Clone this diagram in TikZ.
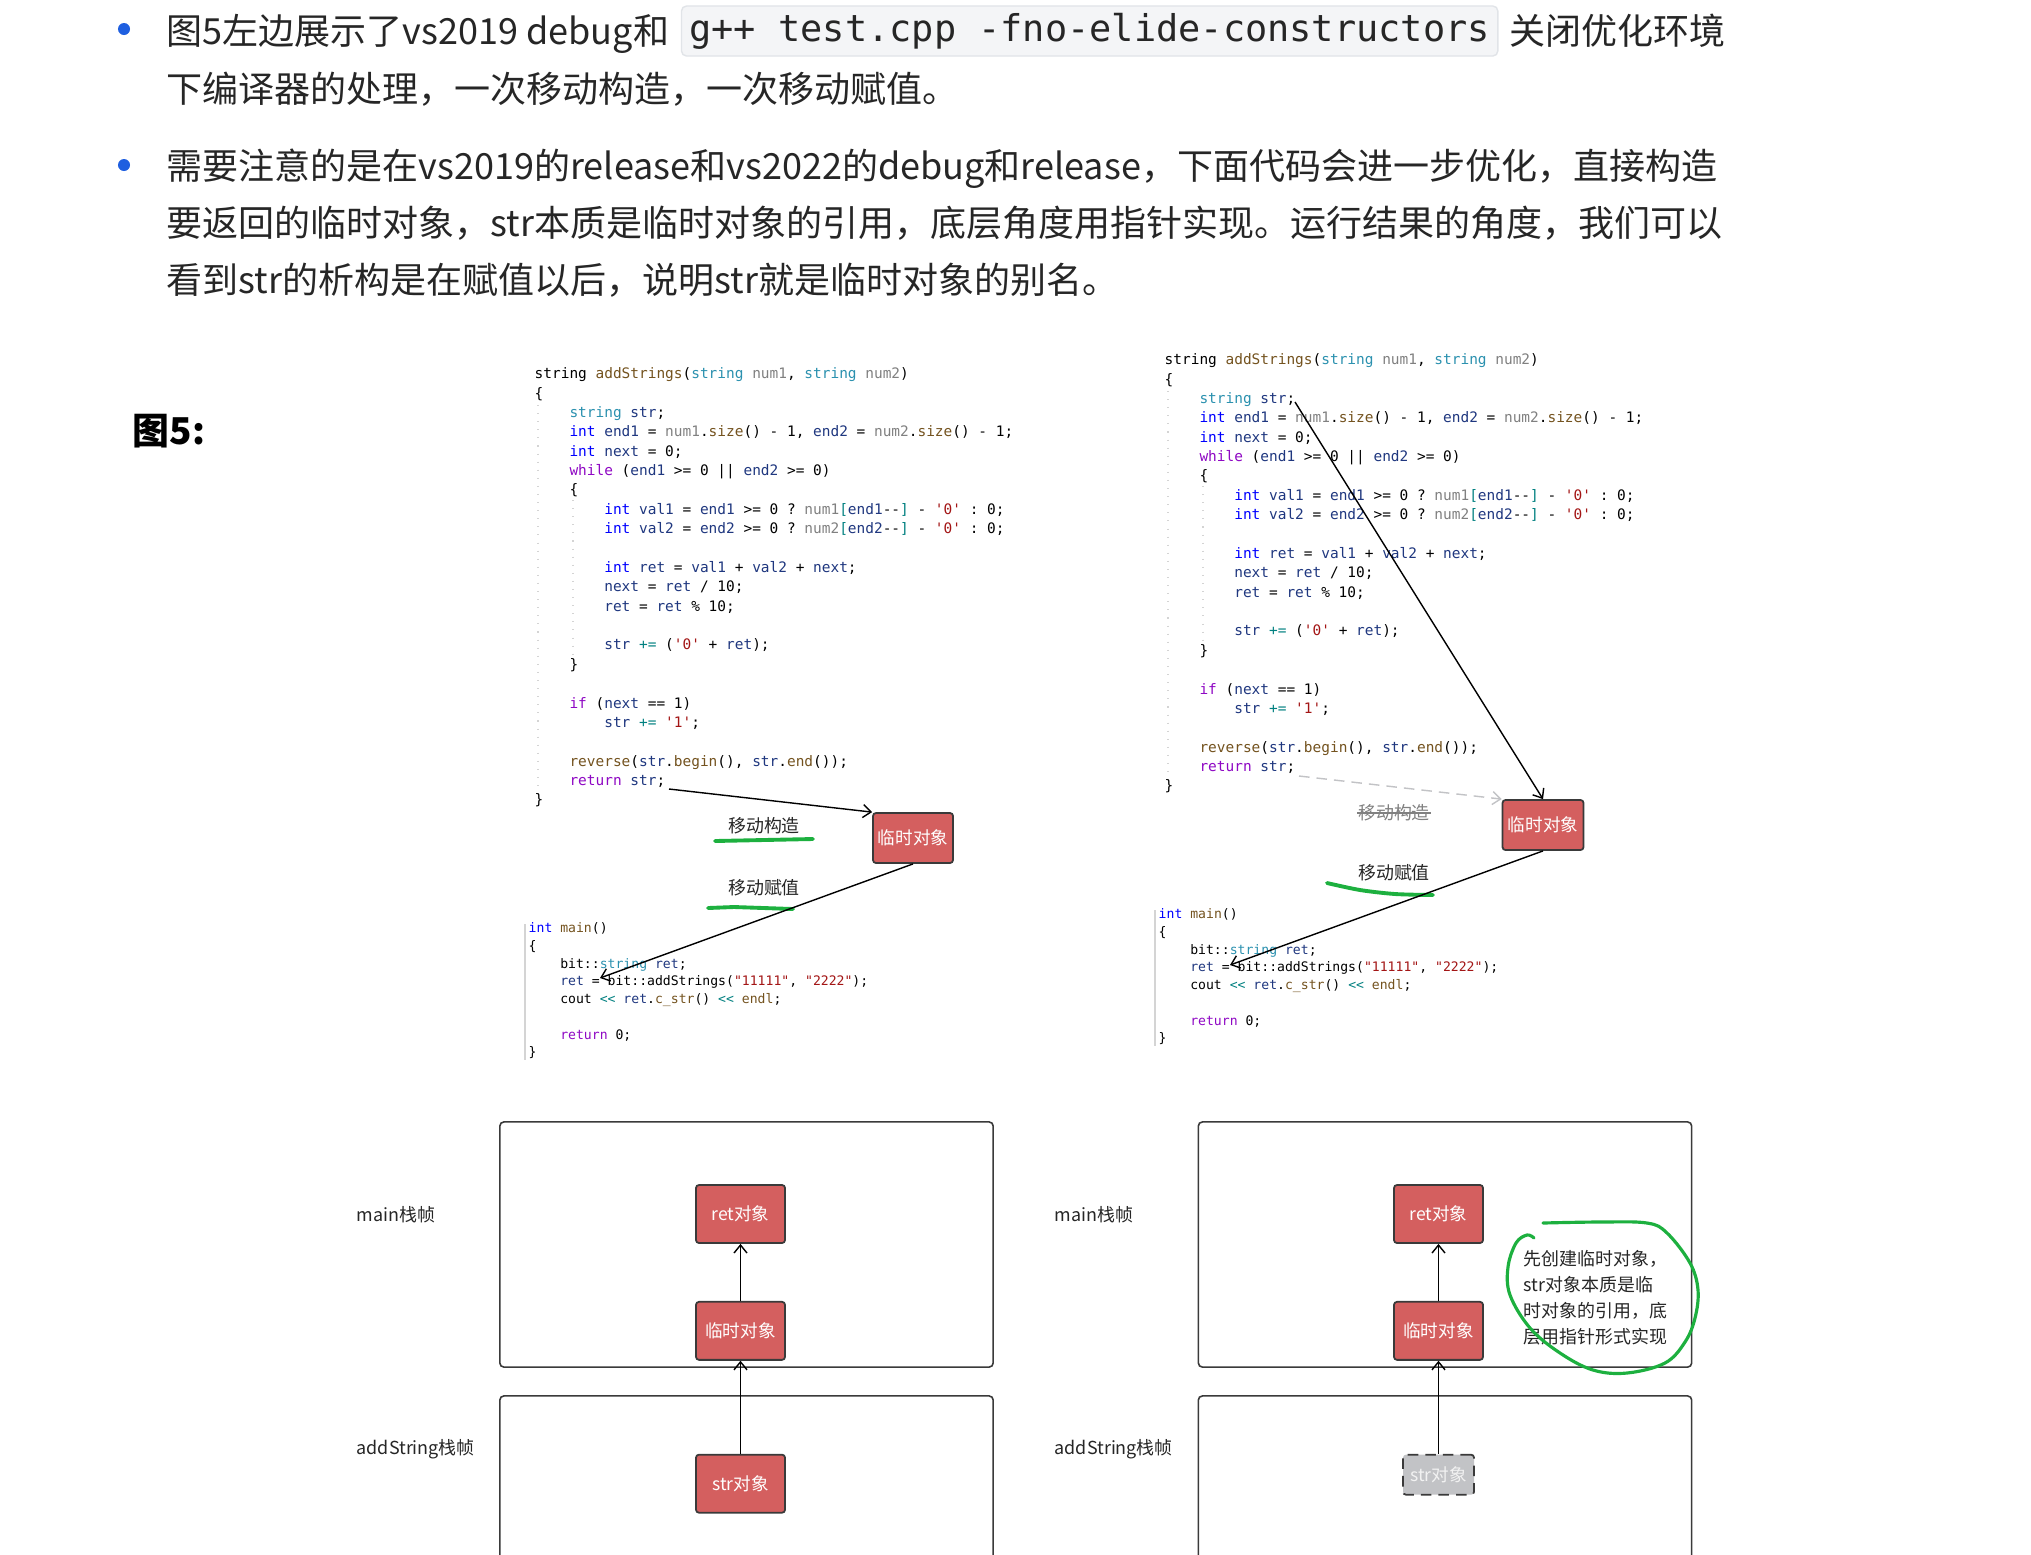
\documentclass[tikz,border=0pt]{standalone}
\usepackage{fontspec}
\setmainfont{Noto Sans CJK SC}
\setmonofont{DejaVu Sans Mono}
\usetikzlibrary{arrows.meta, positioning}

\definecolor{txtgray}{HTML}{262626}
\definecolor{bulletblue}{HTML}{1F5FE0}
\definecolor{boxred}{HTML}{D45F5F}
\definecolor{boxline}{HTML}{3A3A3A}
\definecolor{pengreen}{HTML}{1DB03F}
\definecolor{codebg}{HTML}{F4F5F7}
\definecolor{codeframe}{HTML}{E1E4E8}
\definecolor{kwblue}{HTML}{0000FF}
\definecolor{ctlpurple}{HTML}{8F08C4}
\definecolor{typteal}{HTML}{2B91AF}
\definecolor{fnbrown}{HTML}{74531F}
\definecolor{varnavy}{HTML}{1F377F}
\definecolor{pargray}{HTML}{808080}
\definecolor{strred}{HTML}{A31515}
\definecolor{opteal}{HTML}{008080}
\definecolor{ghost}{HTML}{C2C3C6}
\definecolor{guide}{HTML}{D4D4D4}

% code colouring
\newcommand\ckw[1]{\textcolor{kwblue}{#1}}
\newcommand\cctl[1]{\textcolor{ctlpurple}{#1}}
\newcommand\ctyp[1]{\textcolor{typteal}{#1}}
\newcommand\cfn[1]{\textcolor{fnbrown}{#1}}
\newcommand\cvar[1]{\textcolor{varnavy}{#1}}
\newcommand\cpar[1]{\textcolor{pargray}{#1}}
\newcommand\cstr[1]{\textcolor{strred}{#1}}
\newcommand\cop[1]{\textcolor{opteal}{#1}}
\newcommand\ind{\hspace*{2.408em}}

\begin{document}
\begin{tikzpicture}[
    x=0.01cm, y=-0.01cm,
    >={Straight Barb[length=0.08cm, width=0.13cm]},
    para/.style={anchor=west, inner sep=0, text height=0.88em, text depth=0.12em, text=txtgray, font=\fontsize{10.24pt}{12pt}\selectfont},
    inline/.style={rectangle, rounded corners=0.05cm, fill=codebg, draw=codeframe, inner xsep=0.08cm, inner ysep=0, minimum height=0.5cm, text=txtgray, font=\ttfamily\fontsize{10.5pt}{12pt}\selectfont},
    codeblk/.style={anchor=north west, inner sep=0, align=left, font=\ttfamily\fontsize{4.11pt}{5.51pt}\selectfont},
    maincode/.style={codeblk, font=\ttfamily\fontsize{3.73pt}{5.04pt}\selectfont},
    tmpbox/.style={rectangle, rounded corners=0.03cm, draw=boxline, line width=0.5pt, fill=boxred, text=white, inner sep=0, font=\fontsize{5pt}{6pt}\selectfont},
    objbox/.style={tmpbox, minimum width=0.89cm, minimum height=0.58cm},
    ghostbox/.style={tmpbox, fill=ghost, densely dashed, text=white!95!black, minimum width=0.71cm, minimum height=0.40cm},
    stackframe/.style={rectangle, rounded corners=0.04cm, draw=boxline, line width=0.45pt, minimum width=4.93cm},
    lbl/.style={text=txtgray, inner sep=0, font=\fontsize{5.1pt}{6pt}\selectfont},
    greenpen/.style={pengreen, line width=1.1pt, line cap=round, line join=round},
    link/.style={->, line width=0.4pt}
]
\useasboundingbox[fill=white] (0,0) rectangle (2031,1554);

% Text above
\fill[bulletblue] (124,29) circle (0.06cm);
\fill[bulletblue] (124,165) circle (0.06cm);
\node[para] (p1a) at (166,31) {图5左边展示了vs2019 debug和};
\node[inline, right=0.11cm of p1a] (gcpp) {g++ test.cpp -fno-elide-constructors};
\node[para, right=0.1cm of gcpp] (p1b) {关闭优化环境};
\node[para] (p2) at (166,89) {下编译器的处理，一次移动构造，一次移动赋值。};
\node[para] (p3) at (166,166) {需要注意的是在vs2019的release和vs2022的debug和release，下面代码会进一步优化，直接构造};
\node[para] (p4) at (166,223) {要返回的临时对象，str本质是临时对象的引用，底层角度用指针实现。运行结果的角度，我们可以};
\node[para] (p5) at (166,280) {看到str的析构是在赋值以后，说明str就是临时对象的别名。};
\node[para, text=black, font=\bfseries\fontsize{10.5pt}{12pt}\selectfont] (fig5) at (132,431) {图5:};

% Code, left
\draw[guide, dotted, line width=0.3pt] (538,405) -- (538,795);
\draw[guide, dotted, line width=0.3pt] (573,500) -- (573,658);
\node[codeblk] (codeL) at (534,367) {%
string \cfn{addStrings}(\ctyp{string} \cpar{num1}, \ctyp{string} \cpar{num2})\\
\{\\
\ind\ctyp{string} \cvar{str};\\
\ind\ckw{int} \cvar{end1} = \cpar{num1}.\cfn{size}() - 1, \cvar{end2} = \cpar{num2}.\cfn{size}() - 1;\\
\ind\ckw{int} \cvar{next} = 0;\\
\ind\cctl{while} (\cvar{end1} >= 0 || \cvar{end2} >= 0)\\
\ind\{\\
\ind\ind\ckw{int} \cvar{val1} = \cvar{end1} >= 0 ? \cpar{num1}\cop{[}\cvar{end1}--\cop{]} - \cstr{'0'} : 0;\\
\ind\ind\ckw{int} \cvar{val2} = \cvar{end2} >= 0 ? \cpar{num2}\cop{[}\cvar{end2}--\cop{]} - \cstr{'0'} : 0;\\
\mbox{}\\
\ind\ind\ckw{int} \cvar{ret} = \cvar{val1} + \cvar{val2} + \cvar{next};\\
\ind\ind\cvar{next} = \cvar{ret} / 10;\\
\ind\ind\cvar{ret} = \cvar{ret} \% 10;\\
\mbox{}\\
\ind\ind\cvar{str} \cop{+=} (\cstr{'0'} + \cvar{ret});\\
\ind\}\\
\mbox{}\\
\ind\cctl{if} (\cvar{next} == 1)\\
\ind\ind\cvar{str} \cop{+=} \cstr{'1'};\\
\mbox{}\\
\ind\cfn{reverse}(\cvar{str}.\cfn{begin}(), \cvar{str}.\cfn{end}());\\
\ind\cctl{return} \cvar{str};\\
\}};
\draw[guide, line width=0.3pt] (525,924) -- (525,1060);
\node[maincode] (mainL) at (528,922) {%
\ckw{int} \cfn{main}()\\
\{\\
\ind bit::\ctyp{string} \cvar{ret};\\
\ind\cvar{ret} = bit::addStrings(\cstr{"11111"}, \cstr{"2222"});\\
\ind cout \cop{<<} \cvar{ret}.\cfn{c\_str}() \cop{<<} \cfn{endl};\\
\mbox{}\\
\ind\cctl{return} 0;\\
\}};

% Code, right
\draw[guide, dotted, line width=0.3pt] (1168,391) -- (1168,781);
\draw[guide, dotted, line width=0.3pt] (1203,486) -- (1203,644);
\node[codeblk] (codeR) at (1164,353) {%
string \cfn{addStrings}(\ctyp{string} \cpar{num1}, \ctyp{string} \cpar{num2})\\
\{\\
\ind\ctyp{string} \cvar{str};\\
\ind\ckw{int} \cvar{end1} = \cpar{num1}.\cfn{size}() - 1, \cvar{end2} = \cpar{num2}.\cfn{size}() - 1;\\
\ind\ckw{int} \cvar{next} = 0;\\
\ind\cctl{while} (\cvar{end1} >= 0 || \cvar{end2} >= 0)\\
\ind\{\\
\ind\ind\ckw{int} \cvar{val1} = \cvar{end1} >= 0 ? \cpar{num1}\cop{[}\cvar{end1}--\cop{]} - \cstr{'0'} : 0;\\
\ind\ind\ckw{int} \cvar{val2} = \cvar{end2} >= 0 ? \cpar{num2}\cop{[}\cvar{end2}--\cop{]} - \cstr{'0'} : 0;\\
\mbox{}\\
\ind\ind\ckw{int} \cvar{ret} = \cvar{val1} + \cvar{val2} + \cvar{next};\\
\ind\ind\cvar{next} = \cvar{ret} / 10;\\
\ind\ind\cvar{ret} = \cvar{ret} \% 10;\\
\mbox{}\\
\ind\ind\cvar{str} \cop{+=} (\cstr{'0'} + \cvar{ret});\\
\ind\}\\
\mbox{}\\
\ind\cctl{if} (\cvar{next} == 1)\\
\ind\ind\cvar{str} \cop{+=} \cstr{'1'};\\
\mbox{}\\
\ind\cfn{reverse}(\cvar{str}.\cfn{begin}(), \cvar{str}.\cfn{end}());\\
\ind\cctl{return} \cvar{str};\\
\}};
\draw[guide, line width=0.3pt] (1155,910) -- (1155,1046);
\node[maincode] (mainR) at (1158,908) {%
\ckw{int} \cfn{main}()\\
\{\\
\ind bit::\ctyp{string} \cvar{ret};\\
\ind\cvar{ret} = bit::addStrings(\cstr{"11111"}, \cstr{"2222"});\\
\ind cout \cop{<<} \cvar{ret}.\cfn{c\_str}() \cop{<<} \cfn{endl};\\
\mbox{}\\
\ind\cctl{return} 0;\\
\}};

% Temporaries and moves
\node[tmpbox, minimum width=0.8cm, minimum height=0.5cm] (tmpL) at (913,838) {临时对象};
\node[tmpbox, minimum width=0.81cm, minimum height=0.5cm] (tmpR) at (1543,825) {临时对象};
\coordinate (retstrL) at (669,789);
\coordinate (retL) at (600,978);
\coordinate (strR) at (1295,402);
\coordinate (retstrR) at (1299,776);
\coordinate (retR) at (1230,965);

\node[lbl] (mcL) at (764,826) {移动构造};
\node[lbl] (maL) at (764,888) {移动赋值};
\draw[greenpen] (715,841) -- (813,839);
\draw[greenpen] (708,908) -- (734,907) -- (793,909);

\node[lbl, text=pargray] (mcR) at (1394,813) {移动构造};
\draw[pargray, line width=0.3pt] (mcR.west) -- (mcR.east);
\node[lbl] (maR) at (1394,873) {移动赋值};
\draw[greenpen] plot[smooth] coordinates {(1327,883) (1360,890) (1395,894) (1433,895)};

\draw[link] (retstrL) -- (tmpL.north west);
\draw[link] (tmpL.south) -- (retL);
\draw[link] (strR) -- (tmpR.north);
\draw[link, ghost, densely dashed] (retstrR) -- (tmpR.north west);
\draw[link] (tmpR.south) -- (retR);

% Stack frames, left
\node[stackframe, minimum height=2.45cm] (mfL) at (746.5,1244.5) {};
\node[stackframe, minimum height=2.6cm] (afL) at (746.5,1526) {};
\node[lbl, anchor=west] (mainlblL) at (356,1215) {main栈帧};
\node[lbl, anchor=west] (addlblL) at (356,1449) {addString栈帧};
\node[objbox] (retobjL) at (740.5,1214) {ret对象};
\node[objbox, below=0.57cm of retobjL] (tmpobjL) {临时对象};
\node[objbox, below=0.93cm of tmpobjL] (strobjL) {str对象};
\draw[link] (tmpobjL) -- (retobjL);
\draw[link] (strobjL) -- (tmpobjL);

% Stack frames, right
\node[stackframe, minimum height=2.45cm] (mfR) at (1445,1244.5) {};
\node[stackframe, minimum height=2.6cm] (afR) at (1445,1526) {};
\node[lbl, anchor=west] (mainlblR) at (1054,1215) {main栈帧};
\node[lbl, anchor=west] (addlblR) at (1054,1449) {addString栈帧};
\node[objbox] (retobjR) at (1438.5,1214) {ret对象};
\node[objbox, below=0.57cm of retobjR] (tmpobjR) {临时对象};
\node[ghostbox, below=0.93cm of tmpobjR] (strobjR) {str对象};
\draw[link] (tmpobjR) -- (retobjR);
\draw[link] (strobjR) -- (tmpobjR);

\node[lbl, anchor=north west, align=left, font=\fontsize{5.1pt}{7.4pt}\selectfont] (note) at (1523,1250) {先创建临时对象，\\str对象本质是临\\时对象的引用，底\\层用指针形式实现};
\draw[greenpen, line width=0.9pt] plot[smooth, tension=0.6] coordinates {(1543,1223) (1600,1222) (1647,1223) (1667,1233) (1690,1263) (1698,1290) (1695,1318) (1685,1342) (1665,1363) (1627,1373) (1593,1370) (1560,1353) (1530,1328) (1510,1295) (1508,1267) (1516,1243) (1527,1235) (1534,1238)};

\end{tikzpicture}
\end{document}
